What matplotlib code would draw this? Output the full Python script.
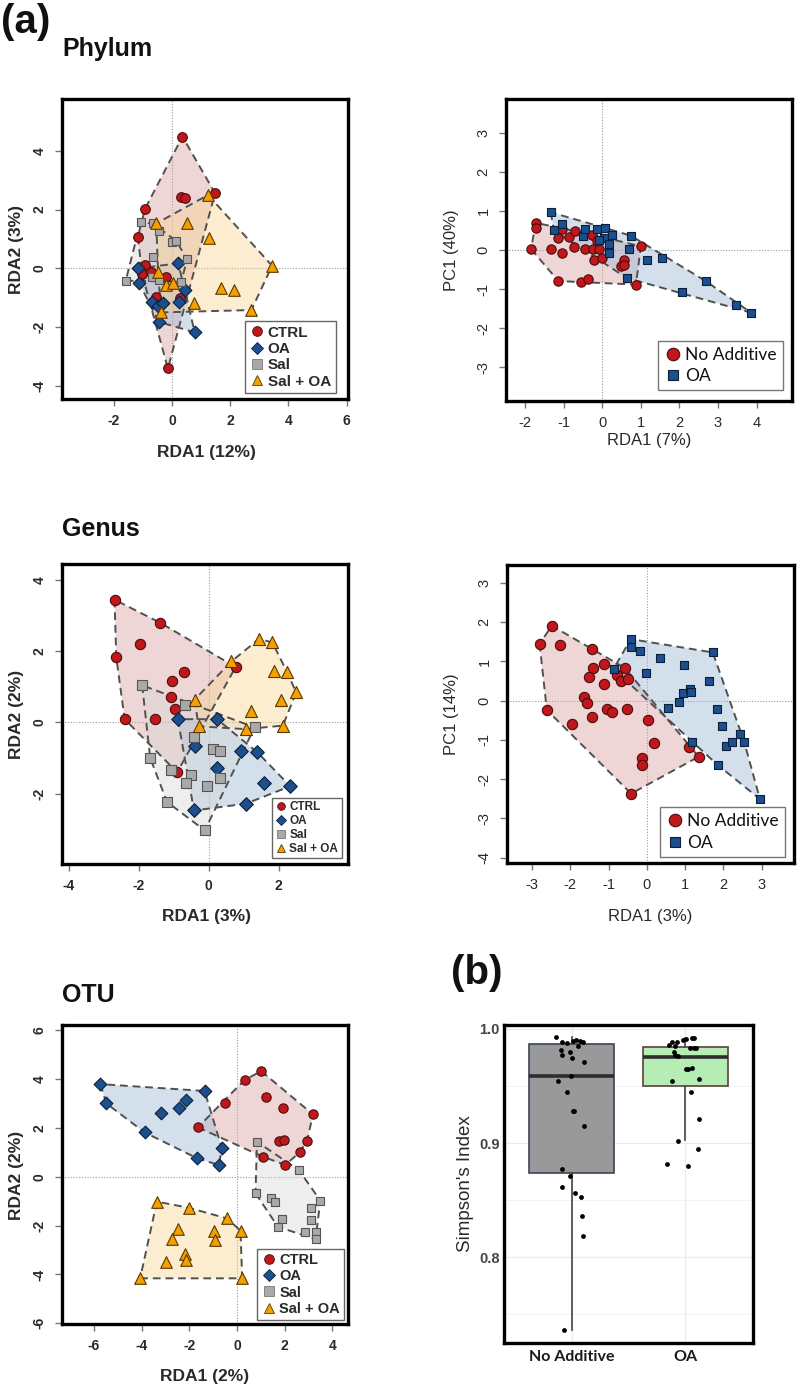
import numpy as np
import matplotlib
matplotlib.use("Agg")
import matplotlib.pyplot as plt
from matplotlib.lines import Line2D

W, H = 800, 1389

# ---------------- DATA ----------------
groups4 = ["CTRL", "OA", "Sal", "Sal + OA"]
groups2 = ["No Additive", "OA"]

# Phylum RDA
ph_ctrl_x = [0.36, 0.32, 0.46, 1.48, -0.93, -1.17, -0.94, -1.03, -0.71, -0.19, -0.54, 0.26, -0.14]
ph_ctrl_y = [4.49, 2.44, 2.39, 2.56, 2.02, 1.08, 0.11, -0.19, -0.11, -0.28, -0.97, -1.02, -3.41]
ph_oa_x = [-1.17, -1.13, 0.21, 0.44, 0.23, -0.68, -0.48, -0.31, -0.46, 0.78]
ph_oa_y = [0.00, -0.49, 0.17, -0.72, -1.14, -1.14, -1.27, -1.19, -1.82, -2.18]
ph_sal_x = [-1.08, -0.65, -0.45, 0.00, 0.15, -0.65, 0.52, -1.59, -0.68, -0.45, 0.32]
ph_sal_y = [1.57, 1.53, 1.27, 0.89, 0.93, 0.38, 0.31, -0.42, -0.28, -0.38, -0.45]
ph_so_x = [-0.54, 0.53, 1.24, 1.26, 3.44, 1.70, 2.12, 2.73, 0.76, -0.48, -0.19, 0.03, -0.37]
ph_so_y = [1.53, 1.53, 2.50, 1.02, 0.09, -0.66, -0.72, -1.42, -1.19, -0.11, -0.57, -0.49, -1.50]

# Phylum PCA
php_no_x = [-1.73, -1.71, -1.85, -1.32, -1.14, -1.04, -1.06, -0.86, -0.71, -0.73, -0.45, -0.28,
            -0.23, -0.08, -0.21, -0.02, -1.14, -0.55, -0.36, 0.55, 0.48, 0.57, 1.00, 0.87, -0.15]
php_no_y = [0.70, 0.57, 0.03, 0.04, 0.30, -0.07, 0.53, 0.34, 0.49, 0.09, 0.02, 0.40,
            0.02, 0.04, -0.26, -0.20, -0.79, -0.81, -0.75, -0.24, -0.41, -0.37, 0.10, -0.88, 0.23]
php_oa_x = [-1.34, -1.26, -1.06, -0.49, -0.45, -0.13, 0.07, 0.04, -0.09, 0.17, 0.16, 0.24,
            0.74, 0.68, 0.63, 1.17, 1.56, 2.06, 2.68, 3.47, 3.86]
php_oa_y = [0.97, 0.51, 0.68, 0.36, 0.53, 0.54, 0.57, 0.31, 0.26, 0.17, -0.07, 0.40,
            0.37, 0.02, -0.71, -0.26, -0.20, -1.06, -0.79, -1.39, -1.60]

# Genus RDA
ge_ctrl_x = [-2.69, -1.38, -1.97, -2.64, -0.71, -1.04, -1.07, -0.97, -2.40, -1.54, 0.77, -0.90]
ge_ctrl_y = [3.44, 2.79, 2.20, 1.83, 1.41, 1.17, 0.70, 0.37, 0.09, 0.10, 1.55, -1.40]
ge_oa_x = [-0.88, 0.24, -0.40, 0.93, 1.39, 0.25, 1.58, 2.33, 1.06, -0.42]
ge_oa_y = [0.09, 0.09, -0.65, -0.81, -0.84, -1.28, -1.70, -1.79, -2.28, -2.47]
ge_sal_x = [-1.90, -0.69, -0.43, 0.12, 0.33, -1.67, -1.07, -0.50, -0.66, -0.04, 0.31, -1.19, -0.11, 1.31]
ge_sal_y = [1.04, 0.50, -0.42, -0.75, -0.81, -1.00, -1.33, -1.47, -1.71, -1.77, -1.56, -2.23, -3.03, -0.14]
ge_so_x = [1.44, 1.82, 0.65, 1.86, 2.24, 2.50, 2.08, 1.20, 2.12, 1.06, -0.40, -0.29]
ge_so_y = [2.34, 2.24, 1.71, 1.45, 1.41, 0.84, 0.62, 0.31, -0.09, -0.19, 0.64, -0.11]

# Genus PCA
gep_no_x = [-2.80, -2.48, -2.26, -1.43, -2.61, -1.96, -1.41, -1.50, -1.11, -1.11, -1.63, -1.55, -1.43,
            -1.04, -0.91, -0.78, -0.68, -0.57, -0.48, -0.52, 0.02, 0.19, -0.13, -0.13, -0.41, 1.11, 1.35]
gep_no_y = [1.45, 1.91, 1.42, 1.31, -0.24, -0.60, 0.83, 0.61, 0.94, 0.42, 0.10, -0.07, -0.41,
            -0.20, -0.28, 0.66, 0.50, 0.83, 0.55, -0.22, -0.49, -1.09, -1.45, -1.63, -2.37, -1.17, -1.43]
gep_oa_x = [-0.87, -0.42, -0.42, -0.19, 0.35, -0.03, 0.96, 1.72, 1.63, 0.94, 1.13, 1.16, 0.83,
            0.55, 1.84, 1.97, 2.07, 2.23, 2.43, 2.54, 1.19, 1.85, 2.95]
gep_oa_y = [0.81, 1.57, 1.38, 1.27, 1.08, 0.70, 0.91, 1.23, 0.49, 0.19, 0.30, 0.23, -0.03,
            -0.18, -0.20, -0.65, -1.16, -1.05, -0.86, -1.05, -1.05, -1.64, -2.51]

# OTU RDA
ot_ctrl_x = [1.02, 0.32, 1.20, -0.52, 1.93, 3.19, -1.64, 1.76, 1.96, 2.94, 2.63, 1.09, 2.03]
ot_ctrl_y = [4.32, 3.96, 3.25, 3.00, 2.80, 2.55, 2.02, 1.46, 1.50, 1.46, 1.00, 0.82, 0.48]
ot_oa_x = [-5.73, -5.48, -1.36, -2.15, -2.45, -3.20, -3.87, -0.63, -1.66, -0.76]
ot_oa_y = [3.79, 3.00, 3.51, 3.14, 2.82, 2.59, 1.81, 1.16, 0.75, 0.48]
ot_sal_x = [0.84, 2.60, 0.78, 1.41, 1.58, 3.50, 3.12, 1.90, 1.72, 3.12, 2.84, 3.30, 3.30]
ot_sal_y = [1.43, 0.27, -0.68, -0.89, -1.02, -0.98, -1.27, -1.75, -2.05, -1.77, -2.28, -2.28, -2.56]
ot_so_x = [-3.36, -2.03, -0.41, -2.48, -2.71, -0.97, -0.94, 0.15, -2.20, -2.15, -2.97, -4.06, 0.22]
ot_so_y = [-1.02, -1.27, -1.71, -2.16, -2.55, -2.22, -2.59, -2.21, -3.17, -3.41, -3.48, -4.16, -4.16]

# Simpson's index (b)
simp_no_vals = [0.9927, 0.9883, 0.9880, 0.9895, 0.9904, 0.9898, 0.9889, 0.9850, 0.9816, 0.9772,
                0.9801, 0.9743, 0.9714, 0.9591, 0.9547, 0.9445, 0.9285, 0.9285, 0.9150, 0.8774,
                0.8707, 0.8613, 0.8560, 0.8526, 0.8362, 0.8181, 0.7358]
simp_no_jit = [-0.14, -0.09, -0.04, 0.01, 0.04, 0.07, 0.10, 0.05, -0.10, -0.09, -0.02, 0.00,
               0.11, -0.01, -0.12, -0.04, 0.01, 0.02, 0.11, -0.09, -0.02, -0.09, 0.03, 0.08,
               0.09, 0.10, -0.07]
simp_oa_vals = [0.9860, 0.9890, 0.9890, 0.9900, 0.9910, 0.9918, 0.9918, 0.9850, 0.9830, 0.9830,
                0.9830, 0.9800, 0.9770, 0.9760, 0.9650, 0.9653, 0.9660, 0.9547, 0.9560, 0.9450,
                0.9210, 0.9019, 0.8949, 0.8818, 0.8803]
simp_oa_jit = [-0.14, -0.12, -0.07, -0.02, 0.01, 0.06, 0.08, -0.09, 0.04, 0.08, 0.10, -0.10,
               -0.09, -0.06, 0.01, 0.03, 0.06, -0.12, 0.12, 0.05, 0.12, -0.06, 0.11, -0.16, 0.03]
# box statistics
box_q1 = [0.8736, 0.9498]
box_med = [0.9591, 0.9755]
box_q3 = [0.9869, 0.9845]
box_lo = [0.7358, 0.9028]
box_hi = [0.9927, 0.9918]

# ---------------- STYLE ----------------
col_pt = {"CTRL": "#C0171C", "OA": "#1B4F8E", "Sal": "#A9A9A9", "Sal + OA": "#F5A000",
          "No Additive": "#C0171C"}
col_edge = {"CTRL": "#4A0C0C", "OA": "#0C1F3A", "Sal": "#555555", "Sal + OA": "#5A3A00",
            "No Additive": "#4A0C0C"}
col_fill = {"CTRL": "#D99A9A", "OA": "#93B3D1", "Sal": "#D6D6D6", "Sal + OA": "#F8D28C",
            "No Additive": "#D99A9A"}
mk4 = {"CTRL": "o", "OA": "D", "Sal": "s", "Sal + OA": "^"}
TXT = "#2A2A2A"
RF = "Liberation Sans"

fig = plt.figure(figsize=(W / 100, H / 100), dpi=100)


def rect(l, t, r, b):
    return [l / W, 1 - b / H, (r - l) / W, (b - t) / H]


def ftxt(x, y, s, **kw):
    fig.text(x / W, 1 - y / H, s, **kw)


def hull(xs, ys):
    pts = sorted(set(zip(xs, ys)))
    if len(pts) < 3:
        return pts

    def cross(o, a, b):
        return (a[0] - o[0]) * (b[1] - o[1]) - (a[1] - o[1]) * (b[0] - o[0])
    lower, upper = [], []
    for p in pts:
        while len(lower) >= 2 and cross(lower[-2], lower[-1], p) <= 0:
            lower.pop()
        lower.append(p)
    for p in reversed(pts):
        while len(upper) >= 2 and cross(upper[-2], upper[-1], p) <= 0:
            upper.pop()
        upper.append(p)
    return lower[:-1] + upper[:-1]


def r_axes(r, xlim, ylim, xticks, yticks, bold=True):
    ax = fig.add_axes(rect(*r))
    ax.set_xlim(*xlim)
    ax.set_ylim(*ylim)
    ax.set_xticks(xticks)
    ax.set_yticks(yticks)
    ax.set_xticklabels([str(v) for v in xticks])
    ax.set_yticklabels([str(v) for v in yticks], rotation=90, va="center")
    ax.tick_params(length=5, width=1, color="#777777", pad=6, labelsize=10 if bold else 10.5,
                   labelcolor=TXT)
    for lab in ax.get_xticklabels() + ax.get_yticklabels():
        lab.set_fontfamily(RF)
        lab.set_fontweight("bold" if bold else "normal")
    for s in ax.spines.values():
        s.set_linewidth(2.4)
        s.set_color("black")
    ax.axhline(0, color="#9A9A9A", lw=0.8, ls=(0, (1, 1.5)), zorder=0)
    ax.axvline(0, color="#9A9A9A", lw=0.8, ls=(0, (1, 1.5)), zorder=0)
    return ax


def draw_groups(ax, data, sizes, names):
    for g, (xs, ys) in zip(names, data):
        hp = hull(xs, ys)
        hx = [p[0] for p in hp]
        hy = [p[1] for p in hp]
        ax.fill(hx, hy, color=col_fill[g], alpha=0.4, lw=0, zorder=1)
    for g, (xs, ys) in zip(names, data):
        hp = hull(xs, ys)
        hx = [p[0] for p in hp] + [hp[0][0]]
        hy = [p[1] for p in hp] + [hp[0][1]]
        ax.plot(hx, hy, color="#505050", lw=1.4, ls=(0, (4, 2.5)), zorder=2)
    for g, (xs, ys) in zip(names, data):
        mk = mk4.get(g, "o") if g != "OA" or len(names) == 4 else "s"
        ax.scatter(xs, ys, s=sizes[g], marker=mk, c=col_pt[g], edgecolors=col_edge[g],
                   linewidths=0.8, zorder=3)


def legend4(ax, anchor, fs, ms):
    hs = [Line2D([], [], ls="none", marker=mk4[g], markerfacecolor=col_pt[g],
                 markeredgecolor=col_edge[g] if g != "Sal" else "#777777",
                 markeredgewidth=0.6, markersize=ms * (0.85 if g == "OA" else 1.0))
          for g in groups4]
    lg = ax.legend(hs, groups4, loc="lower right", bbox_to_anchor=anchor, borderaxespad=0,
                   frameon=True, fancybox=False, edgecolor="#666666", framealpha=1,
                   prop={"family": RF, "weight": "bold", "size": fs}, handletextpad=0.2,
                   handlelength=1.0, labelspacing=0.15, borderpad=0.3)
    lg.get_frame().set_linewidth(1.0)
    for t in lg.get_texts():
        t.set_color(TXT)
    lg.set_zorder(5)


def legend2(ax, anchor, fs, ms):
    hs = [Line2D([], [], ls="none", marker="o", markerfacecolor=col_pt["CTRL"],
                 markeredgecolor=col_edge["CTRL"], markersize=ms, markeredgewidth=0.8),
          Line2D([], [], ls="none", marker="s", markerfacecolor=col_pt["OA"],
                 markeredgecolor=col_edge["OA"], markersize=ms * 0.85, markeredgewidth=0.8)]
    lg = ax.legend(hs, groups2, loc="lower right", bbox_to_anchor=anchor, borderaxespad=0,
                   frameon=True, fancybox=False, edgecolor="#777777", framealpha=1,
                   prop={"family": "Lato", "size": fs}, handletextpad=0.2,
                   handlelength=1.0, labelspacing=0.3, borderpad=0.35)
    lg.get_frame().set_linewidth(1.0)
    for t in lg.get_texts():
        t.set_color("#111111")
    lg.set_zorder(5)


# ---------------- Panel 1: Phylum RDA ----------------
ax1 = r_axes((62, 99, 348, 399), (-3.78, 6.05), (-4.45, 5.77), [-2, 0, 2, 4, 6], [-4, -2, 0, 2, 4])
draw_groups(ax1, [(ph_ctrl_x, ph_ctrl_y), (ph_oa_x, ph_oa_y), (ph_sal_x, ph_sal_y), (ph_so_x, ph_so_y)],
            {"CTRL": 48, "OA": 42, "Sal": 40, "Sal + OA": 70}, groups4)
legend4(ax1, (0.957, 0.019), 11, 7)

# ---------------- Panel 2: Phylum PCA ----------------
ax2 = r_axes((506, 99, 792, 401), (-2.50, 4.92), (-3.86, 3.87), [-2, -1, 0, 1, 2, 3, 4],
             [-3, -2, -1, 0, 1, 2, 3], bold=False)
draw_groups(ax2, [(php_no_x, php_no_y), (php_oa_x, php_oa_y)],
            {"No Additive": 45, "OA": 34}, groups2)
legend2(ax2, (0.9685, 0.035), 12.5, 9)

# ---------------- Panel 3: Genus RDA ----------------
ax3 = r_axes((62, 564, 348, 864), (-4.19, 3.98), (-3.97, 4.44), [-4, -2, 0, 2], [-2, 0, 2, 4])
draw_groups(ax3, [(ge_ctrl_x, ge_ctrl_y), (ge_oa_x, ge_oa_y), (ge_sal_x, ge_sal_y), (ge_so_x, ge_so_y)],
            {"CTRL": 55, "OA": 48, "Sal": 42, "Sal + OA": 75}, groups4)
legend4(ax3, (0.978, 0.019), 8.5, 5.5)

# ---------------- Panel 4: Genus PCA ----------------
ax4 = r_axes((507, 565, 794, 863), (-3.65, 3.84), (-4.14, 3.46), [-3, -2, -1, 0, 1, 2, 3],
             [-4, -3, -2, -1, 0, 1, 2, 3], bold=False)
draw_groups(ax4, [(gep_no_x, gep_no_y), (gep_oa_x, gep_oa_y)],
            {"No Additive": 55, "OA": 38}, groups2)
legend2(ax4, (0.969, 0.021), 12.5, 9)

# ---------------- Panel 5: OTU RDA ----------------
ax5 = r_axes((62, 1025, 348, 1324), (-7.34, 4.66), (-6.03, 6.21), [-6, -4, -2, 0, 2, 4],
             [-6, -4, -2, 0, 2, 4, 6])
draw_groups(ax5, [(ot_ctrl_x, ot_ctrl_y), (ot_oa_x, ot_oa_y), (ot_sal_x, ot_sal_y), (ot_so_x, ot_so_y)],
            {"CTRL": 45, "OA": 42, "Sal": 38, "Sal + OA": 70}, groups4)
legend4(ax5, (0.987, 0.013), 10.5, 7)

# ---------------- Panel 6: Simpson boxplot ----------------
ax6 = fig.add_axes(rect(504, 1025, 753, 1343))
ax6.set_xlim(0.4, 2.6)
ax6.set_ylim(0.7247, 1.0035)
ax6.set_yticks([0.75, 0.85, 0.95], minor=True)
ax6.set_yticks([0.8, 0.9, 1.0])
ax6.set_yticklabels(["0.8", "0.9", "1.0"])
ax6.set_xticks([1, 2])
ax6.set_xticklabels(groups2)
ax6.grid(True, which="major", color="#EBEBEB", lw=0.9, zorder=0)
ax6.grid(True, which="minor", axis="y", color="#F3F3F3", lw=0.7, zorder=0)
ax6.set_axisbelow(True)
ax6.tick_params(axis="both", which="both", length=0)
ax6.tick_params(axis="y", pad=3, labelsize=10.5, labelcolor="#444444")
ax6.tick_params(axis="x", pad=5, labelsize=11.5, labelcolor="#1A1A1A")
for lab in ax6.get_yticklabels():
    lab.set_fontfamily(RF)
    lab.set_fontweight("bold")
for lab in ax6.get_xticklabels():
    lab.set_fontfamily("Lato")
    lab.set_fontweight("bold")
for s in ax6.spines.values():
    s.set_linewidth(2.4)
    s.set_color("black")
stats = [dict(med=box_med[i], q1=box_q1[i], q3=box_q3[i], whislo=box_lo[i], whishi=box_hi[i],
              fliers=[]) for i in range(2)]
bp = ax6.bxp(stats, positions=[1, 2], widths=0.75, patch_artist=True, showcaps=False,
             manage_ticks=False,
             medianprops=dict(color="#2E2E2E", lw=2.6),
             whiskerprops=dict(color="#444444", lw=1.2),
             boxprops=dict(lw=1.2))
bp["boxes"][0].set_facecolor("#999999")
bp["boxes"][0].set_edgecolor("#3A4655")
bp["boxes"][1].set_facecolor("#B5EDB5")
bp["boxes"][1].set_edgecolor("#5A3F3F")
ax6.scatter(1 + np.array(simp_no_jit), simp_no_vals, s=12, c="black", zorder=4, lw=0)
ax6.scatter(2 + np.array(simp_oa_jit), simp_oa_vals, s=12, c="black", zorder=4, lw=0)

# ---------------- Texts ----------------
ftxt(1, 22, "(a)", fontsize=29, fontweight="bold", family=RF, va="center", ha="left", color="#111111")
ftxt(477, 973, "(b)", fontsize=29, fontweight="bold", family=RF, va="center", ha="center", color="#111111")
ftxt(62, 56, "Phylum", fontsize=18, fontweight="bold", family=RF, va="baseline", ha="left", color="#111111")
ftxt(62, 536, "Genus", fontsize=18, fontweight="bold", family=RF, va="baseline", ha="left", color="#111111")
ftxt(62, 1002, "OTU", fontsize=18, fontweight="bold", family=RF, va="baseline", ha="left", color="#111111")

lab_b = dict(fontsize=12.5, fontweight="bold", family=RF, color=TXT, ha="center", va="center")
lab_n = dict(fontsize=12, family=RF, color=TXT, ha="center", va="center")
ftxt(206, 452, "RDA1 (12%)", **lab_b)
ftxt(17, 249, "RDA2 (3%)", rotation=90, **lab_b)
ftxt(649, 440, "RDA1 (7%)", **lab_n)
ftxt(452, 250, "PC1 (40%)", rotation=90, **lab_n)
ftxt(207, 917, "RDA1 (3%)", **lab_b)
ftxt(17, 714, "RDA2 (2%)", rotation=90, **lab_b)
ftxt(650, 917, "RDA1 (3%)", **lab_n)
ftxt(452, 714, "PC1 (14%)", rotation=90, **lab_n)
ftxt(205, 1376, "RDA1 (2%)", **lab_b)
ftxt(17, 1175, "RDA2 (2%)", rotation=90, **lab_b)
ftxt(465, 1184, "Simpson's Index", rotation=90, fontsize=13.5, family=RF, color=TXT,
     ha="center", va="center")

fig.savefig("out.png", dpi=100)
